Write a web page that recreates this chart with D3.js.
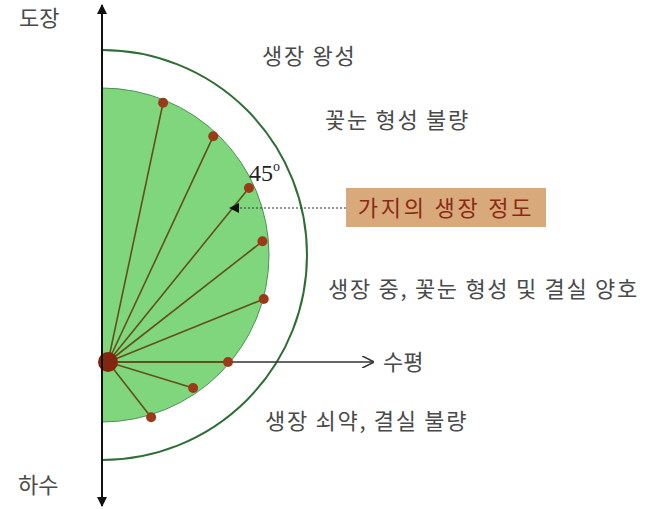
<!DOCTYPE html>
<html>
<head>
<meta charset="utf-8">
<script src="https://cdn.jsdelivr.net/npm/d3@7"></script>
<style>
  body { margin: 0; background: #fff; }
  svg { display: block; }
</style>
</head>
<body>
<div id="chart"></div>
<script>
// branch directions (deg above horizontal) and lengths
const branchAngles = [78, 65, 51, 38, 22, 0, -17, -52];
const branchLengths = [265, 249, 224, 196, 168, 120, 89, 70];

const zoneLabels = ["생장 왕성", "꽃눈 형성 불량", "생장 중, 꽃눈 형성 및 결실 양호", "생장 쇠약, 결실 불량"];
const axisLabels = ["도장", "하수", "수평"];
const calloutText = "가지의 생장 정도";
const angleText = "45";

const width = 648, height = 509;
const axisX = 102;
const ringCenter = { x: 102, y: 255 };
const innerR = 167, outerR = 205;
const fan = { x: 108, y: 362 };

const svg = d3.select("#chart").append("svg")
    .attr("width", width)
    .attr("height", height);

const defs = svg.append("defs");
defs.append("marker")
    .attr("id", "tri")
    .attr("viewBox", "0 0 10 10")
    .attr("refX", 9).attr("refY", 5)
    .attr("markerWidth", 10).attr("markerHeight", 10)
    .attr("markerUnits", "userSpaceOnUse")
    .attr("orient", "auto")
  .append("path")
    .attr("d", "M0,0 L10,5 L0,10 Z")
    .attr("fill", "#111");
defs.append("marker")
    .attr("id", "open")
    .attr("viewBox", "0 0 10 10")
    .attr("refX", 9).attr("refY", 5)
    .attr("markerWidth", 12).attr("markerHeight", 12)
    .attr("markerUnits", "userSpaceOnUse")
    .attr("orient", "auto")
  .append("path")
    .attr("d", "M0,0 L10,5 L0,10")
    .attr("fill", "none")
    .attr("stroke", "#333")
    .attr("stroke-width", 1.3);

const rScale = d3.scaleLinear().domain([0, 300]).range([0, 300]);

// outer ring (half circle outline)
svg.append("path")
    .attr("transform", `translate(${ringCenter.x},${ringCenter.y})`)
    .attr("d", d3.arc()({ innerRadius: outerR, outerRadius: outerR, startAngle: 0, endAngle: Math.PI }))
    .attr("fill", "none")
    .attr("stroke", "#2f6e35")
    .attr("stroke-width", 2);

// green canopy
svg.append("path")
    .attr("transform", `translate(${ringCenter.x},${ringCenter.y})`)
    .attr("d", d3.arc()({ innerRadius: 0, outerRadius: innerR, startAngle: 0, endAngle: Math.PI }))
    .attr("fill", "#7fd67c")
    .attr("stroke", "#4e8f55")
    .attr("stroke-width", 1);

// horizontal arrow
svg.append("line")
    .attr("x1", fan.x).attr("y1", fan.y)
    .attr("x2", 373).attr("y2", fan.y)
    .attr("stroke", "#333")
    .attr("stroke-width", 1.3)
    .attr("marker-end", "url(#open)");

const branches = branchAngles.map((a, i) => {
  const rad = a * Math.PI / 180;
  const len = rScale(branchLengths[i]);
  return { x: fan.x + len * Math.cos(rad), y: fan.y - len * Math.sin(rad) };
});

svg.append("g")
  .selectAll("line")
  .data(branches)
  .enter().append("line")
    .attr("x1", fan.x).attr("y1", fan.y)
    .attr("x2", d => d.x).attr("y2", d => d.y)
    .attr("stroke", "#62501a")
    .attr("stroke-width", 1.6);

svg.append("g")
  .selectAll("circle")
  .data(branches)
  .enter().append("circle")
    .attr("cx", d => d.x).attr("cy", d => d.y)
    .attr("r", 5)
    .attr("fill", "#9a3a18");

svg.append("circle")
    .attr("cx", fan.x).attr("cy", fan.y)
    .attr("r", 10)
    .attr("fill", "#82260f");

// vertical axis with arrowheads both ends
svg.append("line")
    .attr("x1", axisX).attr("y1", 250)
    .attr("x2", axisX).attr("y2", 5)
    .attr("stroke", "#111").attr("stroke-width", 2)
    .attr("marker-end", "url(#tri)");
svg.append("line")
    .attr("x1", axisX).attr("y1", 250)
    .attr("x2", axisX).attr("y2", 506)
    .attr("stroke", "#111").attr("stroke-width", 2)
    .attr("marker-end", "url(#tri)");

const font = "'Noto Sans CJK KR', 'Noto Sans', sans-serif";

svg.append("text").attr("x", 19).attr("y", 26).text(axisLabels[0]);
svg.append("text").attr("x", 18).attr("y", 493).text(axisLabels[1]);
svg.append("text").attr("x", 383).attr("y", 370).text(axisLabels[2]);

const zonePos = [[262, 64], [325, 128], [328, 297], [265, 429]];
svg.append("g")
  .selectAll("text")
  .data(zoneLabels)
  .enter().append("text")
    .attr("x", (d, i) => zonePos[i][0])
    .attr("y", (d, i) => zonePos[i][1])
    .attr("letter-spacing", 1.7)
    .text(d => d);

svg.selectAll("text")
    .attr("font-family", font)
    .attr("font-size", 22)
    .attr("fill", "#4a4a4a");

// 45 degree label
const deg = svg.append("text")
    .attr("x", 249).attr("y", 181)
    .attr("font-family", "'Liberation Serif', 'DejaVu Serif', serif")
    .attr("font-size", 24)
    .attr("fill", "#222");
deg.append("tspan").text(angleText);
deg.append("tspan").attr("dy", -10).attr("font-size", 14).text("o");

// callout box + dotted pointer
svg.append("line")
    .attr("x1", 346).attr("y1", 208)
    .attr("x2", 230).attr("y2", 208)
    .attr("stroke", "#333")
    .attr("stroke-width", 1.2)
    .attr("stroke-dasharray", "2,2")
    .attr("marker-end", "url(#tri)");
svg.append("rect")
    .attr("x", 346).attr("y", 188)
    .attr("width", 200).attr("height", 39)
    .attr("fill", "#d8a97a");
svg.append("text")
    .attr("x", 446).attr("y", 216)
    .attr("text-anchor", "middle")
    .attr("font-family", font)
    .attr("font-size", 22)
    .attr("letter-spacing", 2.8)
    .attr("fill", "#8a2a16")
    .text(calloutText);
</script>
</body>
</html>
